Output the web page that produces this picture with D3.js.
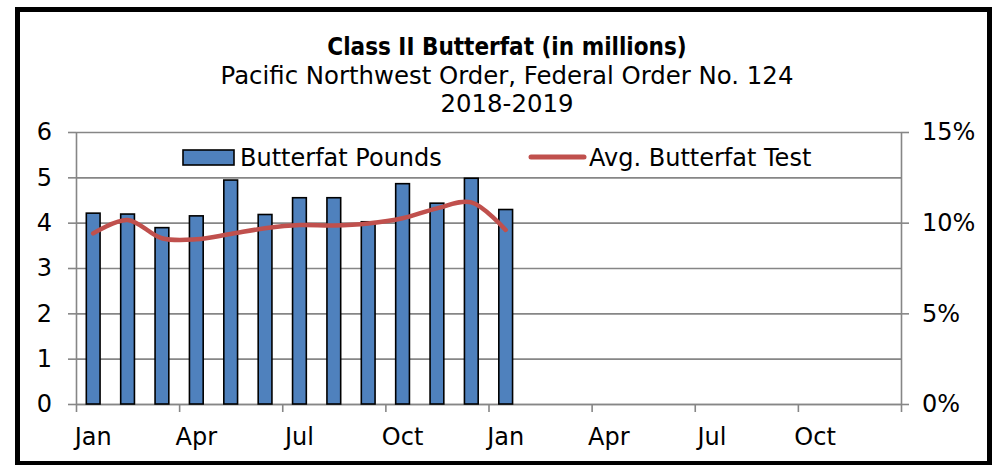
<!DOCTYPE html>
<html><head><meta charset="utf-8">
<script src="https://cdn.jsdelivr.net/npm/d3@7"></script>
<style>body{margin:0;background:#fff} svg{display:block}</style>
</head><body>
<svg id="chart" width="997" height="465"></svg>
<script>
// ---- data ----
const monthNames = ["Jan","Feb","Mar","Apr","May","Jun","Jul","Aug","Sep","Oct","Nov","Dec"];
const years = [2018, 2019];
const months = years.flatMap(y => monthNames.map(m => m + " " + y));
const butterfatPounds = [4.21, 4.19, 3.89, 4.15, 4.94, 4.18, 4.55, 4.55, 4.02, 4.86, 4.43, 4.98, 4.29];
const avgButterfatTest = [9.41, 10.15, 9.14, 9.08, 9.38, 9.69, 9.87, 9.85, 9.96, 10.24, 10.79, 11.12, 9.6];
const leftTicks = [0, 1, 2, 3, 4, 5, 6];
const rightTicks = [0, 5, 10, 15];
const labelMonths = ["Jan","Apr","Jul","Oct"];
const titleLines = ["Class II Butterfat (in millions)", "Pacific Northwest Order, Federal Order No. 124", "2018-2019"];
const legendLabels = ["Butterfat Pounds", "Avg. Butterfat Test"];

// ---- layout ----
const svg = d3.select("#chart");
const L = 76, R = 901, T = 132, B = 404;
const FONT = "'DejaVu Sans', sans-serif";
const FS = 24;
const GRID = "#868686";
const BLUE = "#4F81BD", RED = "#C0504D";

svg.append("rect").attr("x",17.5).attr("y",9.5).attr("width",972).attr("height",454)
  .attr("fill","#fff").attr("stroke","#000").attr("stroke-width",5);

const xSlot = d3.scaleBand().domain(months).range([L, R]);
const xBar = d3.scaleBand().domain(months).range([L, R]).paddingInner(0.6).paddingOuter(0.3);
const xIdx = d3.scaleLinear().domain([0, months.length]).range([L, R]);
const yL = d3.scaleLinear().domain([0, 6]).range([B, T]);
const yR = d3.scaleLinear().domain([0, 15]).range([B, T]);

// gridlines
svg.append("g").attr("transform", `translate(${L},0)`)
  .call(d3.axisLeft(yL).tickValues(leftTicks).tickSize(-(R - L)).tickFormat(""))
  .call(g => g.select(".domain").remove())
  .call(g => g.selectAll("line").attr("stroke", GRID).attr("stroke-width", 1.6));

// left axis
const gl = svg.append("g").attr("transform", `translate(${L},0)`)
  .call(d3.axisLeft(yL).tickValues(leftTicks).tickSize(8).tickPadding(16).tickSizeOuter(0).tickFormat(d3.format("d")));
// right axis
const gr = svg.append("g").attr("transform", `translate(${R},0)`)
  .call(d3.axisRight(yR).tickValues(rightTicks).tickSize(8).tickPadding(13).tickSizeOuter(0).tickFormat(d => d + "%"));
// x axis ticks at boundaries
const gxt = svg.append("g").attr("transform", `translate(0,${B})`)
  .call(d3.axisBottom(xIdx).tickValues(d3.range(0, months.length + 1, 3)).tickSize(8).tickFormat("").tickSizeOuter(0));
// x labels
const labelled = months.filter(m => labelMonths.includes(m.split(" ")[0]));
const gxl = svg.append("g").attr("transform", `translate(0,${B})`)
  .call(d3.axisBottom(xSlot).tickValues(labelled).tickSize(0).tickPadding(24).tickFormat(m => m.split(" ")[0]));
gxl.select(".domain").remove();

[gl, gr, gxt, gxl].forEach(g => {
  g.selectAll(".domain").attr("stroke", GRID).attr("stroke-width", 1.6);
  g.selectAll(".tick line").attr("stroke", GRID).attr("stroke-width", 1.6);
  g.selectAll("text").attr("font-family", FONT).attr("font-size", FS).attr("fill", "#000");
});

// bars
svg.append("g").selectAll("rect").data(butterfatPounds).join("rect")
  .attr("x", (d, i) => xBar(months[i]))
  .attr("width", xBar.bandwidth())
  .attr("y", d => yL(d))
  .attr("height", d => yL(0) - yL(d))
  .attr("fill", BLUE).attr("stroke", "#000").attr("stroke-width", 1.6);

// line
const line = d3.line()
  .x((d, i) => xSlot(months[i]) + xSlot.bandwidth() / 2)
  .y(d => yR(d))
  .curve(d3.curveCatmullRom.alpha(0.5));
svg.append("path").datum(avgButterfatTest).attr("d", line)
  .attr("fill", "none").attr("stroke", RED).attr("stroke-width", 4.5).attr("stroke-linecap", "round");

// legend
svg.append("rect").attr("x", 183).attr("y", 150).attr("width", 51).attr("height", 15)
  .attr("fill", BLUE).attr("stroke", "#000").attr("stroke-width", 1.6);
svg.append("text").attr("x", 240).attr("y", 166).text(legendLabels[0])
  .attr("font-family", FONT).attr("font-size", FS);
svg.append("line").attr("x1", 531).attr("x2", 584).attr("y1", 157).attr("y2", 157)
  .attr("stroke", RED).attr("stroke-width", 5).attr("stroke-linecap", "round");
svg.append("text").attr("x", 589).attr("y", 166).text(legendLabels[1])
  .attr("font-family", FONT).attr("font-size", FS);

// titles
const ty = [55, 84, 112];
titleLines.forEach((t, i) => {
  svg.append("text").attr("x", 507).attr("y", ty[i]).attr("text-anchor", "middle")
    .attr("font-family", i === 0 ? "'DejaVu Sans Condensed', 'DejaVu Sans', sans-serif" : FONT)
    .attr("font-size", i === 0 ? 24 : 24.4)
    .attr("font-weight", i === 0 ? "bold" : "normal").text(t);
});
</script>
</body></html>
